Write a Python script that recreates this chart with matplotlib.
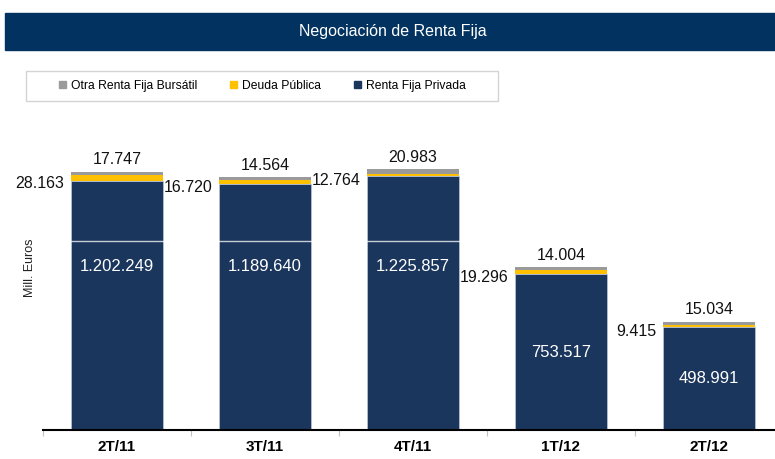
import matplotlib
matplotlib.use("Agg")
import matplotlib.pyplot as plt
from matplotlib.patches import Patch, Rectangle
import numpy as np

# Data (Mill. Euros)
categories = ["2T/11", "3T/11", "4T/11", "1T/12", "2T/12"]
renta_privada = [1202249, 1189640, 1225857, 753517, 498991]
deuda_publica = [28163, 16720, 12764, 19296, 9415]
otra_renta = [17747, 14564, 20983, 14004, 15034]

series_names = ["Otra Renta Fija Bursátil", "Deuda Pública", "Renta Fija Privada"]
c_navy = "#1b365d"
c_yellow = "#ffc000"
c_grey = "#9a9a9a"
c_banner = "#02325f"

# white line marking the axis break, and where labels sit on the broken bars
break_value = 913000
broken_label_y = 792000


def fmt(v):
    return f"{v:,}".replace(",", ".")


plt.rcParams["font.family"] = ["Liberation Sans", "DejaVu Sans"]

fig = plt.figure(figsize=(7.75, 4.59), dpi=100)
W, H = 775, 459

# Title banner
fig.patches.append(Rectangle((5 / W, 1 - 50 / H), 770 / W, 37 / H,
                             transform=fig.transFigure, color=c_banner, zorder=0))
fig.text(393 / W, 1 - 31.5 / H, "Negociación de Renta Fija", color="white",
         fontsize=11.5, ha="center", va="center")

# Legend box
fig.patches.append(Rectangle((26 / W, 1 - 101 / H), 472 / W, 30 / H,
                             transform=fig.transFigure, facecolor="white",
                             edgecolor="#d4d4d4", linewidth=1, zorder=0))
handles = [Patch(color=c) for c in (c_grey, c_yellow, c_navy)]
fig.legend(handles, series_names, loc="center left", bbox_to_anchor=(59 / W, 1 - 86 / H),
           ncol=3, frameon=False, fontsize=8.7, handlelength=0.58, handleheight=0.58,
           handletextpad=0.4, columnspacing=2.75, borderaxespad=0, borderpad=0)

ax = fig.add_axes([43 / W, 29 / H, 740 / W, 320 / H])
x = np.arange(len(categories))
bw = 0.62

privada = np.array(renta_privada)
deuda = np.array(deuda_publica)
otra = np.array(otra_renta)

ax.bar(x, privada, bw, color=c_navy, zorder=2, edgecolor="#c9d2de", linewidth=0.4)
ax.bar(x, deuda, bw, bottom=privada, color=c_yellow, zorder=2)
ax.bar(x, otra, bw, bottom=privada + deuda, color=c_grey, zorder=2)

ax.set_xlim(-0.5, len(categories) - 0.5)
ax.set_ylim(0, 1546000)

ax.axhline(break_value, color="white", alpha=0.75, linewidth=1, zorder=3)

for i in range(len(categories)):
    ly = broken_label_y if privada[i] > break_value else privada[i] / 2
    ax.text(x[i], ly, fmt(privada[i]), color="white",
            fontsize=12, ha="center", va="center", zorder=4)
    ax.annotate(fmt(deuda[i]), (x[i] - bw / 2, privada[i] + deuda[i] / 2),
                xytext=(-5, -4), textcoords="offset points", ha="right", va="center",
                fontsize=11.5, color="#111111")
    ax.annotate(fmt(otra[i]), (x[i], privada[i] + deuda[i] + otra[i]),
                xytext=(0, 3), textcoords="offset points", ha="center", va="bottom",
                fontsize=11.5, color="#111111")

for s in ("left", "right", "top"):
    ax.spines[s].set_visible(False)
ax.spines["bottom"].set_linewidth(1.5)
ax.spines["bottom"].set_color("black")

ax.set_yticks([])
ax.set_xticks(x)
ax.set_xticklabels(categories, fontweight="bold", fontsize=11)
ax.set_xticks(np.arange(len(categories) + 1) - 0.5, minor=True)
ax.tick_params(axis="x", which="major", length=0, pad=7)
ax.tick_params(axis="x", which="minor", length=4, color="#c0c0c0", width=0.8)

fig.text(30 / W, 1 - 268 / H, "Mill. Euros", rotation=90, fontsize=9,
         ha="center", va="center", color="#222222")

fig.savefig("out.png", dpi=100)
